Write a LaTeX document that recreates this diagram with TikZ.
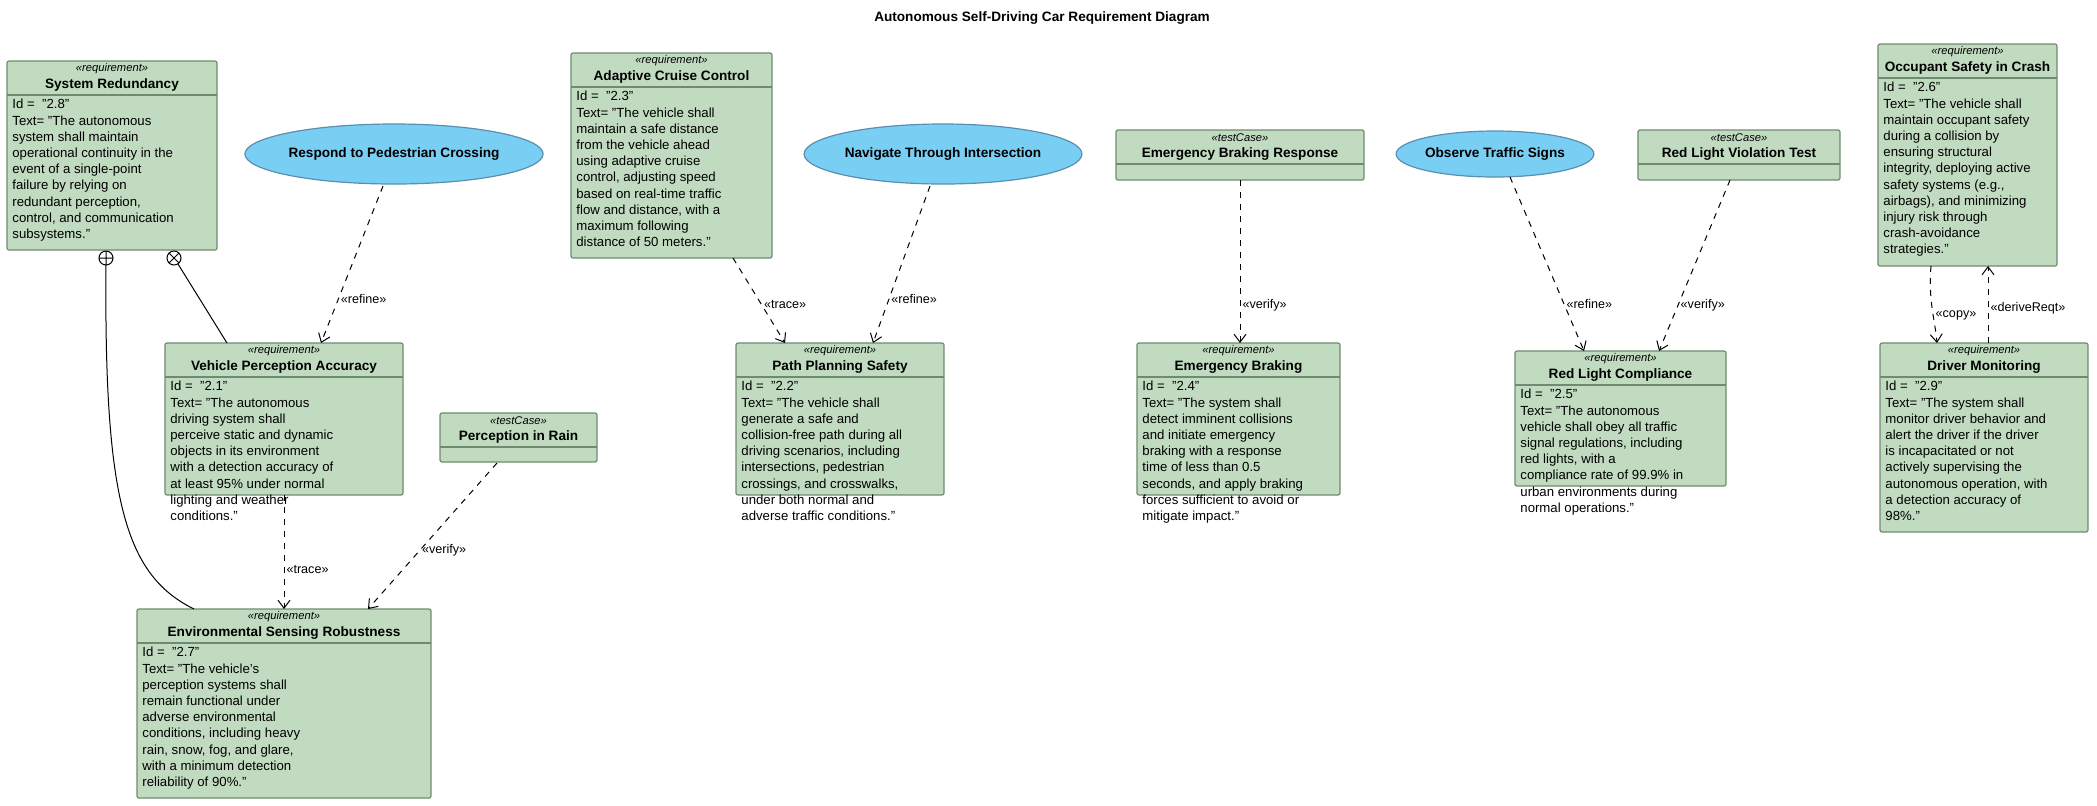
\documentclass[tikz,border=0pt]{standalone}
\usepackage{fontspec}
\setmainfont{Liberation Sans}
\usetikzlibrary{arrows.meta,shapes.geometric,fit}

\definecolor{reqfill}{HTML}{C1DBC1}
\definecolor{reqline}{HTML}{6F8A6F}
\definecolor{ucfill}{HTML}{79CEF4}
\definecolor{ucline}{HTML}{5A8FB0}

\tikzset{
  box/.style={draw=reqline, fill=reqfill, rounded corners=1pt, inner sep=0pt, line width=0.6pt},
  usecase/.style={ellipse, draw=ucline, fill=ucfill, line width=0.6pt, inner sep=0pt,
    font=\fontsize{6.8}{8}\selectfont\bfseries},
  stereo/.style={font=\fontsize{5.6}{6.5}\selectfont\itshape, inner sep=0pt},
  title/.style={font=\fontsize{6.8}{8}\selectfont\bfseries, inner sep=0pt},
  body/.style={font=\fontsize{6.6}{8.1}\selectfont, align=left, inner sep=0pt, anchor=north west},
  dep/.style={densely dashed, dash pattern=on 3pt off 3pt, line width=0.5pt, -{Straight Barb[length=4pt,width=6pt]}},
  lbl/.style={font=\fontsize{6.3}{7}\selectfont, inner sep=1pt}
}

% name, x1, y1, x2, y2, divider, stereotype, title, body
\newcommand{\reqbox}[9]{
  \coordinate (#1-nw) at (#2,#3);
  \coordinate (#1-se) at (#4,#5);
  \node[box, fit=(#1-nw)(#1-se)] (#1) {};
  \draw[reqline, line width=0.6pt] (#2,#6) -- (#4,#6);
  \node[stereo] at ({(#2+#4)/2},{#3+8}) {«#7»};
  \node[title] at ({(#2+#4)/2},{#6-10}) {#8};
  \node[body] at ({#2+5},{#6+4}) {#9};
}

\begin{document}
\begin{tikzpicture}[x=0.5pt, y=-0.5pt]
  \useasboundingbox (0,0) rectangle (2097,805);

  \node[title] at (1042,18) {Autonomous Self-Driving Car Requirement Diagram};

  % requirements and test cases
  \reqbox{sr}{7}{61}{217}{250}{95}{requirement}{System Redundancy}{Id = \ "2.8"\\Text= "The autonomous\\system shall maintain\\operational continuity in the\\event of a single-point\\failure by relying on\\redundant perception,\\control, and communication\\subsystems."}
  \reqbox{acc}{571}{53}{772}{258}{87}{requirement}{Adaptive Cruise Control}{Id = \ "2.3"\\Text= "The vehicle shall\\maintain a safe distance\\from the vehicle ahead\\using adaptive cruise\\control, adjusting speed\\based on real-time traffic\\flow and distance, with a\\maximum following\\distance of 50 meters."}
  \reqbox{ebr}{1116}{130}{1364}{180}{164}{testCase}{Emergency Braking Response}{}
  \reqbox{rlvt}{1638}{130}{1840}{180}{164}{testCase}{Red Light Violation Test}{}
  \reqbox{osc}{1878}{44}{2057}{266}{78}{requirement}{Occupant Safety in Crash}{Id = \ "2.6"\\Text= "The vehicle shall\\maintain occupant safety\\during a collision by\\ensuring structural\\integrity, deploying active\\safety systems (e.g.,\\airbags), and minimizing\\injury risk through\\crash-avoidance\\strategies."}
  \reqbox{vpa}{165}{343}{403}{495}{377}{requirement}{Vehicle Perception Accuracy}{Id = \ "2.1"\\Text= "The autonomous\\driving system shall\\perceive static and dynamic\\objects in its environment\\with a detection accuracy of\\at least 95\% under normal\\lighting and weather\\conditions."}
  \reqbox{pir}{440}{413}{597}{462}{447}{testCase}{Perception in Rain}{}
  \reqbox{pps}{736}{343}{944}{495}{377}{requirement}{Path Planning Safety}{Id = \ "2.2"\\Text= "The vehicle shall\\generate a safe and\\collision-free path during all\\driving scenarios, including\\intersections, pedestrian\\crossings, and crosswalks,\\under both normal and\\adverse traffic conditions."}
  \reqbox{eb}{1137}{343}{1340}{495}{377}{requirement}{Emergency Braking}{Id = \ "2.4"\\Text= "The system shall\\detect imminent collisions\\and initiate emergency\\braking with a response\\time of less than 0.5\\seconds, and apply braking\\forces sufficient to avoid or\\mitigate impact."}
  \reqbox{rlc}{1515}{351}{1726}{486}{385}{requirement}{Red Light Compliance}{Id = \ "2.5"\\Text= "The autonomous\\vehicle shall obey all traffic\\signal regulations, including\\red lights, with a\\compliance rate of 99.9\% in\\urban environments during\\normal operations."}
  \reqbox{dm}{1880}{343}{2088}{532}{377}{requirement}{Driver Monitoring}{Id = \ "2.9"\\Text= "The system shall\\monitor driver behavior and\\alert the driver if the driver\\is incapacitated or not\\actively supervising the\\autonomous operation, with\\a detection accuracy of\\98\%."}
  \reqbox{esr}{137}{609}{431}{798}{643}{requirement}{Environmental Sensing Robustness}{Id = \ "2.7"\\Text= "The vehicle's\\perception systems shall\\remain functional under\\adverse environmental\\conditions, including heavy\\rain, snow, fog, and glare,\\with a minimum detection\\reliability of 90\%."}

  % use cases
  \node[usecase, minimum width=141pt, minimum height=30pt] (rpc) at (394,154) {Respond to Pedestrian Crossing};
  \node[usecase, minimum width=137pt, minimum height=30pt] (nti) at (943,154) {Navigate Through Intersection};
  \node[usecase, minimum width=96pt, minimum height=23pt] (ots) at (1495,154) {Observe Traffic Signs};

  % containment
  \coordinate (cplus) at (106,258);
  \coordinate (cx) at (174,258);
  \draw[line width=0.5pt] (cplus) circle (3.5pt) +(0,-7) -- +(0,7) +(-7,0) -- +(7,0);
  \draw[line width=0.5pt] (cx) circle (3.5pt) +(-5,-5) -- +(5,5) +(-5,5) -- +(5,-5);
  \coordinate (esr-in) at (194,609);
  \coordinate (vpa-in) at (227,343);
  \draw[line width=0.5pt] (106,265) .. controls (104,500) and (125,575) .. (esr-in);
  \draw[line width=0.5pt] (178,264) -- (vpa-in);

  % dependencies
  \draw[dep] (383,186) -- node[lbl, right, pos=0.72] {«refine»} (321,343);
  \draw[dep] (284,495) -- node[lbl, right, pos=0.65] {«trace»} (284,609);
  \draw[dep] (497,463) -- node[lbl, right, pos=0.6] {«verify»} (368,609);
  \draw[dep] (733,258) -- node[lbl, right, pos=0.55] {«trace»} (785,343);
  \draw[dep] (930,186) -- node[lbl, right, pos=0.72] {«refine»} (873,343);
  \draw[dep] (1240,180) -- node[lbl, right, pos=0.77] {«verify»} (1240,343);
  \draw[dep] (1510,177) -- node[lbl, right, pos=0.73] {«refine»} (1584,351);
  \draw[dep] (1730,180) -- node[lbl, right, pos=0.73] {«verify»} (1659,351);
  \draw[dep] (1931,266) .. controls (1928,300) and (1935,320) .. node[lbl, right, pos=0.6] {«copy»} (1937,343);
  \draw[dep] (1988,343) -- node[lbl, right, pos=0.45] {«deriveReqt»} (1988,266);
\end{tikzpicture}
\end{document}
